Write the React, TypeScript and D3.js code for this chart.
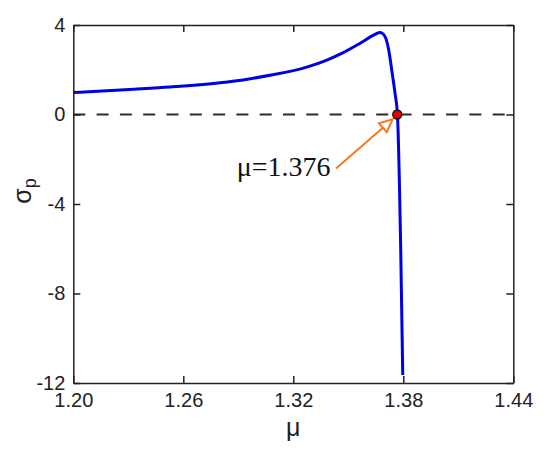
import React, { useEffect, useRef } from 'react';
import * as d3 from 'd3';

// sigma_p vs mu
const muValues = [1.2, 1.233, 1.2527, 1.28, 1.295, 1.3073, 1.3282, 1.3373, 1.3464, 1.3555, 1.3646, 1.3673, 1.369, 1.3704, 1.3724, 1.3737, 1.3755, 1.3768, 1.3786, 1.3797];
const sigmaValues = [0.98, 1.13, 1.23, 1.42, 1.58, 1.75, 2.14, 2.4, 2.73, 3.14, 3.58, 3.67, 3.6, 3.42, 2.72, 1.98, 0.94, 0.0, -6.06, -11.64];
const xTicks = [1.2, 1.26, 1.32, 1.38, 1.44];
const yTicks = [-12, -8, -4, 0, 4];
const critMu = 1.3767;
const critLabel = 'μ=1.376';

const W = 550, H = 458;
const M = { left: 73.3, right: 36.7, top: 25, bottom: 75 };

function App() {
  const ref = useRef<SVGSVGElement>(null);

  useEffect(() => {
    const svg = d3.select(ref.current);
    svg.selectAll('*').remove();
    const iw = W - M.left - M.right;
    const ih = H - M.top - M.bottom;
    const x = d3.scaleLinear().domain([1.2, 1.44]).range([0, iw]);
    const y = d3.scaleLinear().domain([-12, 4]).range([ih, 0]);
    const g = svg.append('g').attr('transform', `translate(${M.left},${M.top})`);

    const data = muValues.map((m, i) => ({ m, s: sigmaValues[i] }));

    // zero line
    g.append('line')
      .attr('x1', 0).attr('x2', iw)
      .attr('y1', y(0)).attr('y2', y(0))
      .attr('stroke', '#2b2b2b').attr('stroke-width', 2)
      .attr('stroke-dasharray', '12,11.3');

    // curve
    const line = d3.line<{ m: number; s: number }>()
      .x(d => x(d.m)).y(d => y(d.s))
      .curve(d3.curveMonotoneX);
    g.append('path').datum(data)
      .attr('d', line)
      .attr('fill', 'none')
      .attr('stroke', '#0000e6')
      .attr('stroke-width', 3);

    // axes
    const font = 'Liberation Sans, Arial, sans-serif';
    const styleAxis = (sel: any) => {
      sel.select('.domain').attr('stroke', '#222').attr('stroke-width', 1.5);
      sel.selectAll('.tick line').attr('stroke', '#222').attr('stroke-width', 1.5);
      sel.selectAll('text').attr('fill', '#222').style('font-size', '20px').style('font-family', font);
    };
    g.append('g').attr('transform', `translate(0,${ih})`)
      .call(d3.axisBottom(x).tickValues(xTicks).tickFormat(d3.format('.2f')).tickSize(-7).tickSizeOuter(0).tickPadding(10))
      .call(styleAxis);
    g.append('g')
      .call(d3.axisLeft(y).tickValues(yTicks).tickFormat(d => String(d)).tickSize(-7).tickSizeOuter(0).tickPadding(8))
      .call(styleAxis);
    g.append('g')
      .call(d3.axisTop(x).tickValues(xTicks).tickFormat(() => '').tickSize(-7).tickSizeOuter(0))
      .call(styleAxis);
    g.append('g').attr('transform', `translate(${iw},0)`)
      .call(d3.axisRight(y).tickValues(yTicks).tickFormat(() => '').tickSize(-7).tickSizeOuter(0))
      .call(styleAxis);

    // annotation arrow
    const tail: [number, number] = [x(1.3433), y(-2.41)];
    const tip: [number, number] = [x(1.3742), y(-0.21)];
    const ang = Math.atan2(tip[1] - tail[1], tip[0] - tail[0]);
    const hl = 13, hw = 6;
    const bx = tip[0] - hl * Math.cos(ang), by = tip[1] - hl * Math.sin(ang);
    const nx = -Math.sin(ang), ny = Math.cos(ang);
    g.append('line')
      .attr('x1', tail[0]).attr('y1', tail[1])
      .attr('x2', bx).attr('y2', by)
      .attr('stroke', '#f07b22').attr('stroke-width', 2);
    g.append('polygon')
      .attr('points', [[tip[0], tip[1]], [bx + nx * hw, by + ny * hw], [bx - nx * hw, by - ny * hw]].map(p => p.join(',')).join(' '))
      .attr('fill', '#fff').attr('stroke', '#f07b22').attr('stroke-width', 2).attr('stroke-linejoin', 'miter');

    g.append('text')
      .attr('x', x(1.2891)).attr('y', y(-2.75))
      .style('font-family', 'Liberation Serif, Times New Roman, serif')
      .style('font-size', '28px')
      .attr('fill', '#111')
      .text(critLabel);

    // critical point
    g.append('circle')
      .attr('cx', x(critMu)).attr('cy', y(0)).attr('r', 4.5)
      .attr('fill', '#e00000').attr('stroke', '#111').attr('stroke-width', 1.3);

    // axis labels
    svg.append('text')
      .attr('x', M.left + iw / 2).attr('y', 436)
      .attr('text-anchor', 'middle')
      .style('font-family', font).style('font-size', '25px')
      .attr('fill', '#222')
      .text('μ');
    const yl = svg.append('text')
      .attr('transform', `translate(31,191) rotate(-90)`)
      .attr('text-anchor', 'middle')
      .style('font-family', font).style('font-size', '25px')
      .attr('fill', '#222');
    yl.append('tspan').text('σ');
    yl.append('tspan').attr('dy', 5).style('font-size', '18px').text('p');
  }, []);

  return (
    <svg ref={ref} width={W} height={H}
      style={{ position: 'absolute', left: 0, top: 0, background: '#fff' }} />
  );
}

export default App;
